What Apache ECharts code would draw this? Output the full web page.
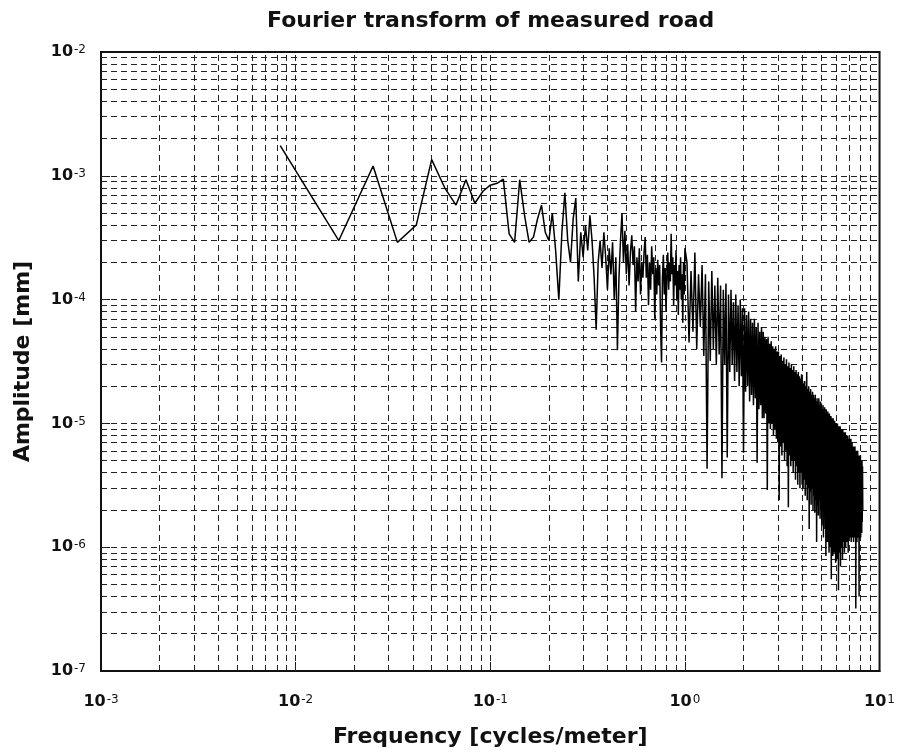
<!DOCTYPE html>
<html>
<head>
<meta charset="utf-8">
<script src="https://cdn.jsdelivr.net/npm/echarts@6/dist/echarts.min.js"></script>
<style>
html,body{margin:0;padding:0;background:#fff;}
#chart{width:898px;height:754px;}
</style>
</head>
<body>
<div id="chart"></div>
<script>
// ---------------- DATA ----------------
const chartTitle = 'Fourier transform of measured road';
const xAxisTitle = 'Frequency [cycles/meter]';
const yAxisTitle = 'Amplitude [mm]';

// tick label exponents (decades)
const xTickExponents = [-3, -2, -1, 0, 1];
const yTickExponents = [-7, -6, -5, -4, -3, -2];

// spectral resolution: 1/120 cycles per meter
const freqStep = 1 / 120;

// amplitudes [mm] for bins k = 1 .. 120 (every bin)
const ampLow = [
  1.75e-3, 3.0e-4, 1.2e-3, 2.9e-4, 4.0e-4, 1.35e-3, 8.0e-4, 5.8e-4, 9.3e-4, 6.0e-4,
  7.5e-4, 8.4e-4, 8.7e-4, 9.4e-4, 3.4e-4, 2.9e-4, 9.3e-4, 4.8e-4, 2.9e-4, 3.2e-4,
  4.5e-4, 5.8e-4, 3.5e-4, 3.0e-4, 5.0e-4, 2.5e-4, 1.0e-4, 3.5e-4, 7.3e-4, 3.0e-4,
  2.0e-4, 4.5e-4, 6.6e-4, 1.4e-4, 3.5e-4, 2.2e-4, 4.0e-4, 2.5e-4, 4.8e-4, 3.0e-4,
  1.5e-4, 5.7e-5, 2.0e-4, 3.0e-4, 1.8e-4, 3.5e-4, 2.2e-4, 1.2e-4, 2.6e-4, 1.6e-4,
  2.9e-4, 1.0e-4, 2.2e-4, 3.9e-5, 1.5e-4, 3.0e-4, 5.0e-4, 2.0e-4, 3.6e-4, 1.6e-4,
  2.8e-4, 1.3e-4, 2.4e-4, 3.3e-4, 1.9e-4, 2.7e-4, 8.0e-5, 2.2e-4, 1.4e-4, 2.6e-4,
  1.1e-4, 2.0e-4, 1.5e-4, 2.4e-4, 3.2e-4, 1.5e-4, 2.3e-4, 9.0e-5, 2.0e-4, 1.2e-4,
  2.7e-4, 1.6e-4, 2.2e-4, 7.0e-5, 1.8e-4, 1.1e-4, 2.1e-4, 1.3e-4, 1.9e-4, 6.0e-5,
  3.1e-5, 1.5e-4, 2.3e-4, 1.1e-4, 1.8e-4, 8.0e-5, 1.6e-4, 2.4e-4, 1.2e-4, 2.0e-4,
  1.4e-4, 3.4e-4, 1.6e-4, 2.2e-4, 9.0e-5, 1.9e-4, 1.3e-4, 2.5e-4, 1.0e-4, 1.7e-4,
  7.5e-5, 1.9e-4, 1.2e-4, 2.2e-4, 1.0e-4, 1.6e-4, 6.5e-5, 2.0e-4, 1.1e-4, 2.6e-4
];

// amplitudes [mm] for bins k = 123, 126, ... 984 (every 3rd bin)
const firstHighBin = 123;
const highBinStride = 3;
const ampHigh = [
  2.0e-4, 4.5e-5, 1.7e-4, 5.5e-5, 2.4e-4, 4.0e-5, 1.6e-4, 6.0e-5, 1.9e-4,
  3.5e-5, 1.6e-4, 4.3e-6, 1.4e-4, 3.2e-5, 1.7e-4, 4.0e-5, 1.3e-4, 3.0e-5, 1.5e-4, 3.6e-5,
  1.3e-4, 3.6e-6, 1.2e-4, 3.0e-5, 1.35e-4, 5.3e-6, 1.1e-4, 2.6e-5, 1.2e-4, 3.0e-5,
  9.5e-5, 2.2e-5, 1.1e-4, 2.6e-5, 9.0e-5, 2.0e-5, 1.0e-4, 2.4e-5, 8.5e-5, 5.8e-6,
  8.5e-5, 1.8e-5, 7.5e-5, 2.0e-5, 8.0e-5, 1.5e-5, 7.0e-5, 1.7e-5, 6.5e-5, 1.4e-5,
  7.0e-5, 1.6e-5, 6.0e-5, 4.8e-6, 6.5e-5, 1.3e-5, 5.5e-5, 1.4e-5, 6.0e-5, 1.1e-5,
  5.5e-5, 1.1e-5, 5.0e-5, 1.2e-5, 4.8e-5, 2.9e-6, 5.0e-5, 1.0e-5, 4.4e-5, 9.0e-6,
  4.6e-5, 1.0e-5, 4.2e-5, 8.0e-6, 4.0e-5, 9.0e-6, 4.2e-5, 7.5e-6, 3.8e-5, 7.0e-6,
  3.8e-5, 2.4e-6, 3.5e-5, 6.5e-6, 3.6e-5, 5.5e-6, 3.2e-5, 7.0e-6, 3.4e-5, 5.0e-6,
  3.0e-5, 6.0e-6, 3.3e-5, 4.5e-6, 2.9e-5, 2.1e-6, 3.1e-5, 5.5e-6, 2.8e-5, 4.5e-6,
  3.0e-5, 5.0e-6, 2.7e-5, 4.0e-6, 2.9e-5, 5.0e-6, 2.6e-5, 3.5e-6, 2.7e-5, 4.5e-6,
  2.5e-5, 3.2e-6, 2.6e-5, 4.0e-6, 2.4e-5, 3.0e-6, 2.3e-5, 4.0e-6, 2.5e-5, 3.2e-6,
  2.2e-5, 3.0e-6, 2.1e-5, 3.5e-6, 2.2e-5, 2.6e-6, 2.0e-5, 3.2e-6, 2.6e-5, 2.4e-6,
  1.9e-5, 3.0e-6, 2.0e-5, 1.4e-6, 1.8e-5, 2.8e-6, 1.9e-5, 2.2e-6, 1.7e-5, 3.0e-6,
  1.8e-5, 2.0e-6, 1.7e-5, 2.6e-6, 1.6e-5, 1.9e-6, 1.7e-5, 2.4e-6, 1.5e-5, 1.1e-6,
  1.6e-5, 2.2e-6, 1.5e-5, 1.8e-6, 1.6e-5, 2.4e-6, 1.4e-5, 1.7e-6, 1.5e-5, 2.0e-6,
  1.45e-5, 1.5e-6, 1.3e-5, 2.0e-6, 1.4e-5, 1.2e-6, 1.3e-5, 1.8e-6, 1.35e-5, 1.4e-6,
  1.2e-5, 8.5e-7, 1.3e-5, 1.6e-6, 1.2e-5, 1.1e-6, 1.25e-5, 1.5e-6, 1.15e-5, 9.0e-7,
  1.2e-5, 1.3e-6, 1.1e-5, 1.0e-6, 1.15e-5, 5.5e-7, 1.1e-5, 1.2e-6, 1.05e-5, 8.5e-7,
  1.1e-5, 1.3e-6, 1.0e-5, 9.0e-7, 1.05e-5, 1.1e-6, 9.5e-6, 7.5e-7, 1.0e-5, 1.0e-6,
  9.5e-6, 8.0e-7, 1.0e-5, 1.1e-6, 9.0e-6, 4.5e-7, 9.5e-6, 9.0e-7, 9.0e-6, 1.2e-6,
  9.5e-6, 7.0e-7, 8.5e-6, 1.0e-6, 9.0e-6, 1.3e-6, 8.5e-6, 8.0e-7, 9.0e-6, 1.1e-6,
  8.0e-6, 1.4e-6, 8.5e-6, 9.0e-7, 8.0e-6, 1.2e-6, 8.5e-6, 1.0e-6, 7.5e-6, 1.4e-6,
  8.0e-6, 1.1e-6, 7.5e-6, 1.3e-6, 8.0e-6, 9.0e-7, 7.5e-6, 1.2e-6, 7.0e-6, 1.4e-6,
  7.5e-6, 1.2e-6, 7.0e-6, 1.5e-6, 7.5e-6, 1.1e-6, 6.5e-6, 1.4e-6, 7.0e-6, 1.2e-6,
  6.5e-6, 1.6e-6, 6.0e-6, 1.1e-6, 6.5e-6, 1.4e-6, 6.0e-6, 1.2e-6, 6.5e-6, 1.5e-6,
  6.0e-6, 3.2e-7, 5.5e-6, 1.3e-6, 6.0e-6, 1.1e-6, 5.5e-6, 1.5e-6, 6.0e-6, 1.2e-6,
  5.5e-6, 1.4e-6, 5.0e-6, 4.0e-7, 5.5e-6, 1.3e-6, 5.0e-6, 1.6e-6, 5.5e-6, 1.2e-6,
  5.0e-6, 1.5e-6, 4.5e-6, 1.3e-6, 5.0e-6, 1.6e-6, 4.5e-6, 2.0e-6
];

// ---------------- BUILD ----------------
const lineData = [];
ampLow.forEach((a, i) => lineData.push([(i + 1) * freqStep, a]));
ampHigh.forEach((a, i) => lineData.push([(firstHighBin + i * highBinStride) * freqStep, a]));

const xMin = Math.pow(10, xTickExponents[0]);
const xMax = Math.pow(10, xTickExponents[xTickExponents.length - 1]);
const yMin = Math.pow(10, yTickExponents[0]);
const yMax = Math.pow(10, yTickExponents[yTickExponents.length - 1]);

// grid line values: 1..9 x each decade
function gridValues(exps) {
  const out = [];
  for (let i = 0; i < exps.length - 1; i++) {
    for (let m = 1; m <= 9; m++) {
      if (i === 0 && m === 1) continue;
      out.push(m * Math.pow(10, exps[i]));
    }
  }
  return out;
}
const xGrid = gridValues(xTickExponents);
const yGrid = gridValues(yTickExponents);
const gridSegments = xGrid.map(v => ({ coords: [[v, yMin], [v, yMax]] }))
  .concat(yGrid.map(v => ({ coords: [[xMin, v], [xMax, v]] })));

const FONT = 'DejaVu Sans';
function powLabel(v) {
  const e = Math.round(Math.log10(v));
  return '{b|10}{s|' + e + '}';
}
const labelRich = {
  b: { fontFamily: FONT, fontWeight: 'bold', fontSize: 16, color: '#111', lineHeight: 16, verticalAlign: 'bottom' },
  s: { fontFamily: FONT, fontWeight: 'normal', fontSize: 12, color: '#111', lineHeight: 12, verticalAlign: 'top', padding: [0, 0, 11, 1] }
};

const chart = echarts.init(document.getElementById('chart'), null, { renderer: 'canvas' });
chart.setOption({
  animation: false,
  backgroundColor: '#fff',
  title: {
    text: chartTitle,
    left: 262,
    top: 5,
    textStyle: { fontFamily: FONT, fontWeight: 'bold', fontSize: 22, color: '#111' }
  },
  grid: {
    left: 101, right: 11, top: 52, bottom: 83,
    show: true, borderColor: '#111', borderWidth: 2, backgroundColor: '#fff'
  },
  xAxis: {
    type: 'log', logBase: 10, min: xMin, max: xMax, splitNumber: 4,
    name: xAxisTitle, nameLocation: 'middle', nameGap: 55,
    nameTextStyle: { fontFamily: FONT, fontWeight: 'bold', fontSize: 22, color: '#111' },
    axisLine: { show: true, lineStyle: { color: '#111', width: 2 } },
    axisTick: { show: true, inside: true, length: 9, lineStyle: { color: '#111', width: 1 } },
    splitLine: { show: false },
    axisLabel: { margin: 23, formatter: powLabel, rich: labelRich }
  },
  yAxis: {
    type: 'log', logBase: 10, min: yMin, max: yMax, splitNumber: 5,
    name: yAxisTitle, nameLocation: 'middle', nameGap: 67,
    nameTextStyle: { fontFamily: FONT, fontWeight: 'bold', fontSize: 22, color: '#111' },
    axisLine: { show: true, lineStyle: { color: '#111', width: 2 } },
    axisTick: { show: true, inside: true, length: 9, lineStyle: { color: '#111', width: 1 } },
    splitLine: { show: false },
    axisLabel: { margin: 15, formatter: powLabel, rich: labelRich }
  },
  series: [
    {
      type: 'lines',
      coordinateSystem: 'cartesian2d',
      xAxisIndex: 0,
      yAxisIndex: 0,
      z: 1,
      silent: true,
      polyline: false,
      lineStyle: { type: [6, 4], color: '#222', width: 1, opacity: 1 },
      data: gridSegments
    },
    {
      type: 'line',
      data: lineData,
      z: 3,
      showSymbol: false,
      symbol: 'none',
      silent: true,
      lineStyle: { color: '#000', width: 1.5 }
    }
  ]
});
</script>
</body>
</html>
